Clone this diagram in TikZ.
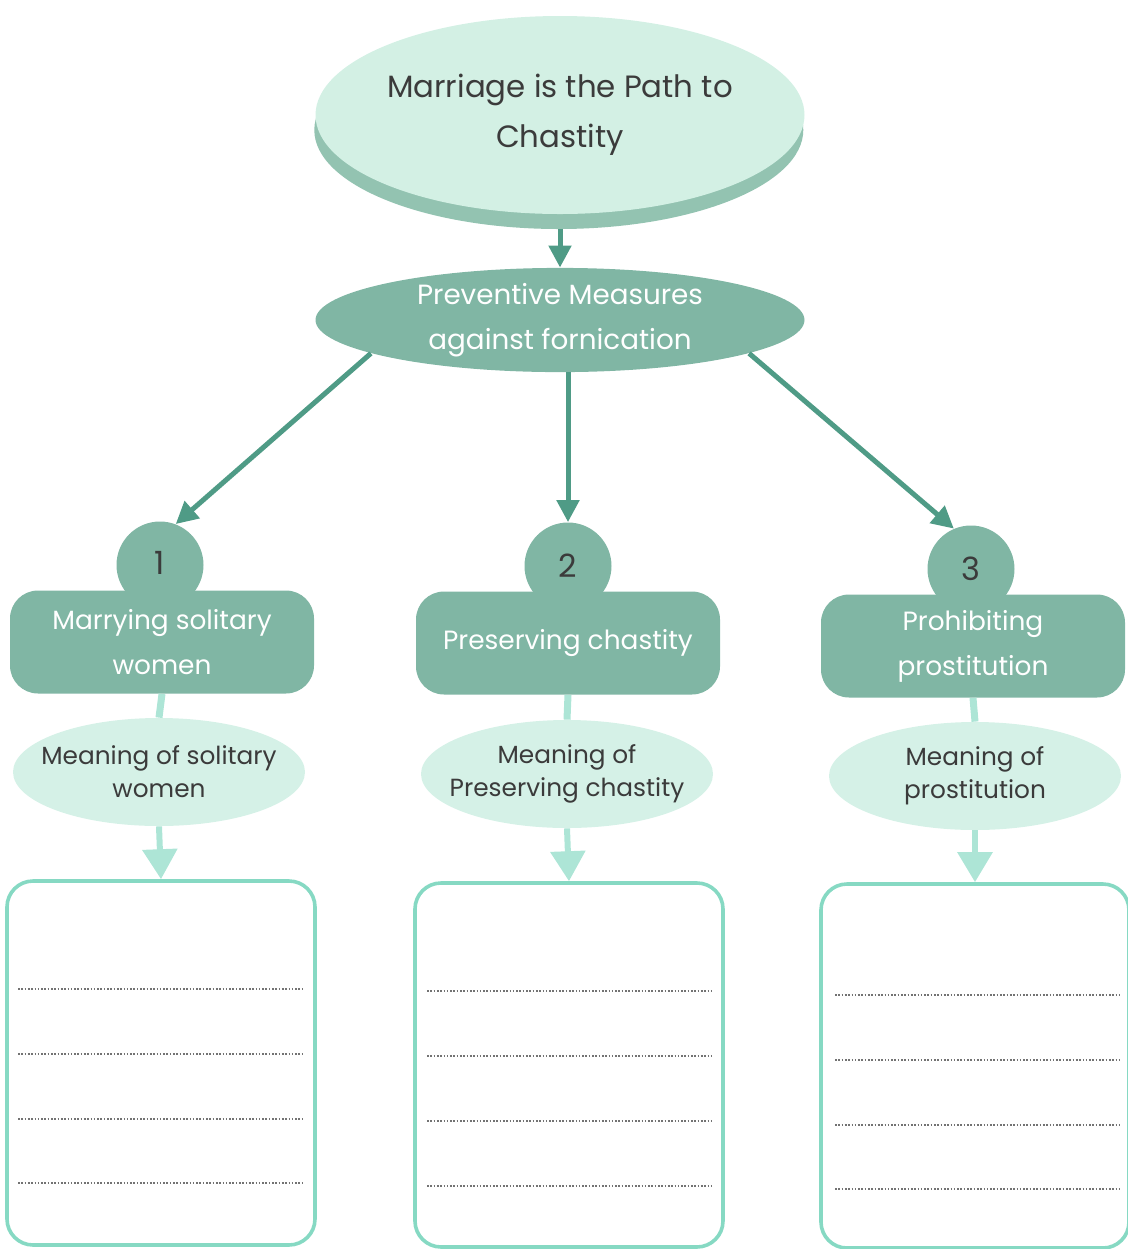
\documentclass[tikz,border=0pt]{standalone}
\usepackage{fontspec}
\setmainfont{Poppins}
\usetikzlibrary{shapes.geometric,shadows,arrows.meta}

\definecolor{topfill}{HTML}{D3F0E4}
\definecolor{toprim}{HTML}{93C3B1}
\definecolor{midfill}{HTML}{80B6A4}
\definecolor{arrowcol}{HTML}{4F9B86}
\definecolor{lightfill}{HTML}{D5F1E7}
\definecolor{lightline}{HTML}{ADE5D6}
\definecolor{boxline}{HTML}{86D9C3}
\definecolor{textdark}{HTML}{3B3B3B}

\begin{document}
\begin{tikzpicture}[x=0.5pt,y=-0.5pt,
  topbubble/.style={ellipse, fill=topfill, inner xsep=-6pt, inner ysep=0pt, minimum width=244.5pt, minimum height=99pt,
    copy shadow={shadow xshift=-0.6pt, shadow yshift=-7.5pt, fill=toprim, draw=none},
    text=textdark, align=center, font={\fontsize{15.4}{25}\selectfont}},
  midbubble/.style={ellipse, fill=midfill, inner sep=0pt, minimum width=244.5pt, minimum height=51.5pt,
    text=white, align=center, font={\fontsize{13.9}{22.5}\selectfont}},
  numdisc/.style={circle, fill=midfill, inner sep=0pt, minimum size=43.5pt},
  numtext/.style={text=textdark, font={\fontsize{16}{18}\selectfont}},
  measurebox/.style={rectangle, rounded corners=14pt, fill=midfill, minimum width=152pt, minimum height=51.5pt,
    text=white, align=center, font={\fontsize{13.2}{22.5}\selectfont}},
  meaningbubble/.style={ellipse, fill=lightfill, inner xsep=-9pt, inner ysep=0pt, minimum width=146pt, minimum height=54pt,
    text=textdark, align=center, font={\fontsize{12.4}{16.5}\selectfont}},
  answerbox/.style={rectangle, rounded corners=13pt, draw=boxline, line width=1.8pt, fill=white,
    minimum width=154pt, minimum height=182pt},
  darkarrow/.style={draw=arrowcol, line width=2.5pt, -{Triangle[length=11pt,width=11pt]}},
  lightarrow/.style={draw=lightline, line width=3pt, -{Triangle[length=15pt,width=17pt]}},
  lightlink/.style={draw=lightline, line width=3.5pt},
  dotline/.style={draw=black!55, line width=0.8pt, dash pattern=on 0.8pt off 0.85pt}]
\useasboundingbox (0,0) rectangle (1128,1249);

% title and the three measures
\node[topbubble] (title) at (560,115) {Marriage is the Path to\\Chastity};
\node[midbubble] (pm) at (560,320) {Preventive Measures\\against fornication};

\node[numdisc] (n1) at (160,565) {};
\node[numdisc] (n2) at (568,566) {};
\node[numdisc] (n3) at (971,569) {};
\node[measurebox] (m1) at (162,642) {Marrying solitary\\women};
\node[measurebox] (m2) at (568,643) {Preserving chastity};
\node[measurebox] (m3) at (973,646) {Prohibiting\\prostitution};
\node[numtext] at (160,563) {1};
\node[numtext] at (568,566) {2};
\node[numtext] at (971,569) {3};

\node[meaningbubble] (e1) at (159,772) {Meaning of solitary\\women};
\node[meaningbubble] (e2) at (567,774) {Meaning of\\Preserving chastity};
\node[meaningbubble] (e3) at (975,776) {Meaning of\\prostitution};

\node[answerbox] (a1) at (161,1063) {};
\node[answerbox] (a2) at (569,1065) {};
\node[answerbox] (a3) at (975,1066) {};

% connectors
\draw[darkarrow, shorten <=7.5pt] (title.south) -- (pm.north);
\draw[darkarrow] (pm.190) -- (n1.69);
\draw[darkarrow] (n2.north |- pm.south) -- (n2.north);
\draw[darkarrow] (pm.-10) -- (n3.113);

\draw[lightlink] (m1.south) -- (e1.north);
\draw[lightlink] (m2.south) -- (e2.north);
\draw[lightlink] (m3.south) -- (e3.north);
\draw[lightarrow] (e1.south) -- (a1.north);
\draw[lightarrow] (e2.south) -- (a2.north);
\draw[lightarrow] (e3.south) -- (a3.north);

% writing lines
\draw[dotline] (18,989) -- (303,989);
\draw[dotline] (18,1054) -- (303,1054);
\draw[dotline] (18,1119) -- (303,1119);
\draw[dotline] (18,1183) -- (303,1183);
\draw[dotline] (427,991) -- (711,991);
\draw[dotline] (427,1056) -- (711,1056);
\draw[dotline] (427,1121) -- (711,1121);
\draw[dotline] (427,1186) -- (711,1186);
\draw[dotline] (835,995) -- (1119,995);
\draw[dotline] (835,1060) -- (1119,1060);
\draw[dotline] (835,1125) -- (1119,1125);
\draw[dotline] (835,1189) -- (1119,1189);
\end{tikzpicture}
\end{document}
